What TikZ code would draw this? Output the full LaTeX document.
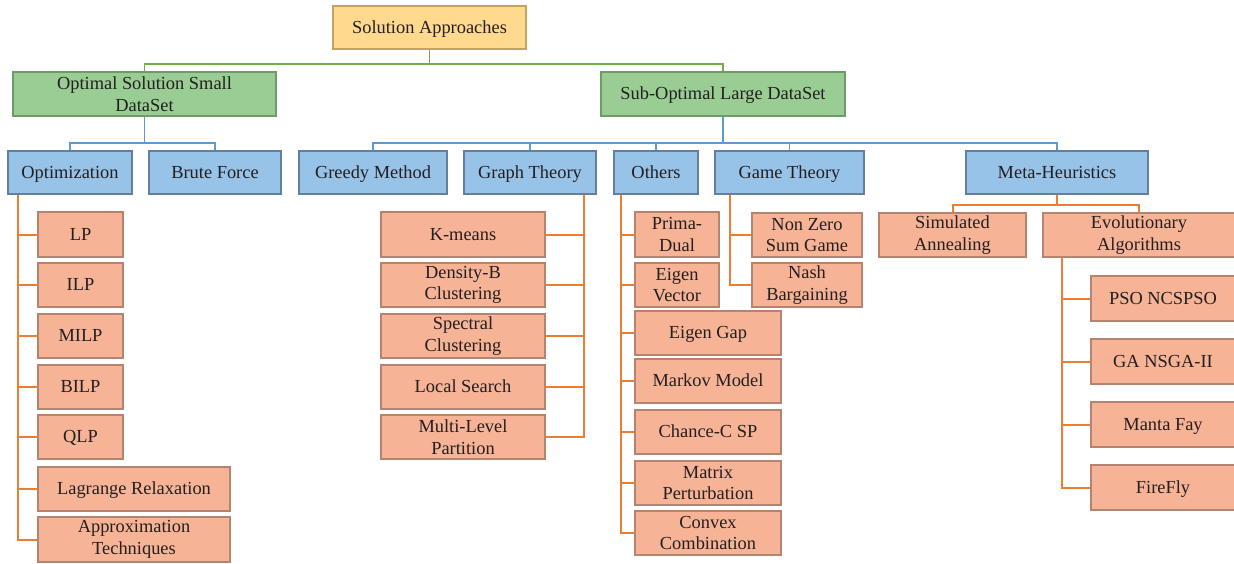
\documentclass[tikz,border=0pt]{standalone}
\usepackage{fontspec}
\setmainfont{Liberation Serif}
\definecolor{txt}{HTML}{231F20}
\definecolor{rootfill}{HTML}{FFD98E}
\definecolor{rootline}{HTML}{C4A260}
\definecolor{grnfill}{HTML}{9ACD94}
\definecolor{grnline}{HTML}{6F9B69}
\definecolor{blufill}{HTML}{98C3E8}
\definecolor{bluline}{HTML}{62809E}
\definecolor{salfill}{HTML}{F7B396}
\definecolor{salline}{HTML}{B58471}
\definecolor{gconn}{HTML}{70AD47}
\definecolor{bconn}{HTML}{5B9BD5}
\definecolor{oconn}{HTML}{ED7D31}
\tikzset{
  box/.style={draw, line width=1.6pt, inner sep=0pt, align=center, text=txt,
    font=\fontsize{18.4}{21.5}\selectfont},
  one/.style={text height=13pt, text depth=1.5pt},
  rootbox/.style={box, fill=rootfill, draw=rootline},
  grnbox/.style={box, fill=grnfill, draw=grnline},
  blubox/.style={box, fill=blufill, draw=bluline},
  salbox/.style={box, fill=salfill, draw=salline},
  gline/.style={draw=gconn, line width=1.8pt},
  bline/.style={draw=bconn, line width=1.8pt},
  oline/.style={draw=oconn, line width=2pt},
}
% box given by its corners: style, name, x1, y1, x2, y2, text
\newcommand\bx[7]{%
  \pgfmathsetmacro\bxw{#5-#3}\pgfmathsetmacro\bxh{#6-#4}%
  \pgfmathsetmacro\bxcx{(#3+#5)/2}\pgfmathsetmacro\bxcy{(#4+#6)/2}%
  \node[#1, minimum width=\bxw pt, minimum height=\bxh pt] (#2) at (\bxcx,\bxcy) {#7};}
\begin{document}
\begin{tikzpicture}[x=1pt, y=-1pt]
\fill[white] (0,0) rectangle (1234,563);
\useasboundingbox (0,0) rectangle (1234,563);

% levels 0-2
\bx{rootbox,one}{sa}{333}{6}{526}{49}{Solution Approaches}
\bx{grnbox}{osd}{13}{72}{276}{116}{Optimal Solution Small\\DataSet}
\bx{grnbox,one}{sold}{601}{72}{845}{116}{Sub-Optimal Large DataSet}
\bx{blubox,one}{opt}{8}{151}{132}{194}{Optimization}
\bx{blubox,one}{bf}{149}{151}{281}{194}{Brute Force}
\bx{blubox,one}{gm}{299}{151}{447}{194}{Greedy Method}
\bx{blubox,one}{gt}{464}{151}{596}{194}{Graph Theory}
\bx{blubox,one}{oth}{614}{151}{698}{194}{Others}
\bx{blubox,one}{gmt}{715}{151}{864}{194}{Game Theory}
\bx{blubox,one}{mh}{966}{151}{1148}{194}{Meta-Heuristics}

% optimization methods
\bx{salbox,one}{lp}{38}{212}{123}{257}{LP}
\bx{salbox,one}{ilp}{38}{263}{123}{307}{ILP}
\bx{salbox,one}{milp}{38}{314}{123}{358}{MILP}
\bx{salbox,one}{bilp}{38}{365}{123}{409}{BILP}
\bx{salbox,one}{qlp}{38}{415}{123}{459}{QLP}
\bx{salbox,one}{lag}{38}{467}{230}{511}{Lagrange Relaxation}
\bx{salbox}{apx}{38}{517}{230}{562}{Approximation\\Techniques}

% graph theory methods
\bx{salbox,one}{km}{381}{212}{545}{257}{K-means}
\bx{salbox}{db}{381}{263}{545}{307}{Density-B\\Clustering}
\bx{salbox}{sc}{381}{314}{545}{358}{Spectral\\Clustering}
\bx{salbox,one}{ls}{381}{365}{545}{409}{Local Search}
\bx{salbox}{ml}{381}{415}{545}{459}{Multi-Level\\Partition}

% other methods
\bx{salbox}{pd}{635}{212}{719}{257}{Prima-\\Dual}
\bx{salbox}{ev}{635}{263}{719}{307}{Eigen\\Vector}
\bx{salbox,one}{eg}{635}{311}{781}{355}{Eigen Gap}
\bx{salbox,one}{mm}{635}{359}{781}{403}{Markov Model}
\bx{salbox,one}{cc}{635}{410}{781}{454}{Chance-C SP}
\bx{salbox}{mp}{635}{461}{781}{505}{Matrix\\Perturbation}
\bx{salbox}{cvx}{635}{511}{781}{555}{Convex\\Combination}

% game theory
\bx{salbox}{nz}{752}{213}{862}{257}{Non Zero\\Sum Game}
\bx{salbox}{nb}{752}{263}{862}{307}{Nash\\Bargaining}

% meta-heuristics
\bx{salbox}{sim}{879}{213}{1026}{257}{Simulated\\Annealing}
\bx{salbox}{evo}{1043}{213}{1235}{257}{Evolutionary\\Algorithms}
\bx{salbox,one}{pso}{1091}{276}{1235}{321}{PSO NCSPSO}
\bx{salbox,one}{ga}{1091}{339}{1235}{384}{GA NSGA-II}
\bx{salbox,one}{mf}{1091}{402}{1235}{447}{Manta Fay}
\bx{salbox,one}{ff}{1091}{465}{1235}{510}{FireFly}

% green connectors
\draw[gline] (sa.south) -- ++(0,14) coordinate (gj) -| (osd.north);
\draw[gline] (gj) -| (sold.north);

% blue connectors
\draw[bline] (osd.south) -- ++(0,26) coordinate (bj1) -| (opt.north);
\draw[bline] (bj1) -| (bf.north);
\draw[bline] (sold.south) -- ++(0,26) coordinate (bj2) -| (gm.north);
\foreach \n in {gt,oth,gmt,mh} \draw[bline] (bj2) -| (\n.north);

% orange trunks
\coordinate (ot1) at ([xshift=11pt]opt.south west);
\coordinate (ot2) at ([xshift=-13pt]gt.south east);
\coordinate (ot3) at ([xshift=8pt]oth.south west);
\coordinate (ot4) at ([xshift=16pt]gmt.south west);
\coordinate (ot5) at ([xshift=20pt]evo.south west);
\foreach \n in {lp,ilp,milp,bilp,qlp,lag,apx} \draw[oline] (ot1) |- (\n.west);
\foreach \n in {km,db,sc,ls,ml} \draw[oline] (ot2) |- (\n.east);
\foreach \n in {pd,ev,eg,mm,cc,mp,cvx} \draw[oline] (ot3) |- (\n.west);
\foreach \n in {nz,nb} \draw[oline] (ot4) |- (\n.west);
\foreach \n in {pso,ga,mf,ff} \draw[oline] (ot5) |- (\n.west);
\draw[oline] (mh.south) -- ++(0,10) coordinate (oj) -| (sim.north);
\draw[oline] (oj) -| (evo.north);
\end{tikzpicture}
\end{document}
